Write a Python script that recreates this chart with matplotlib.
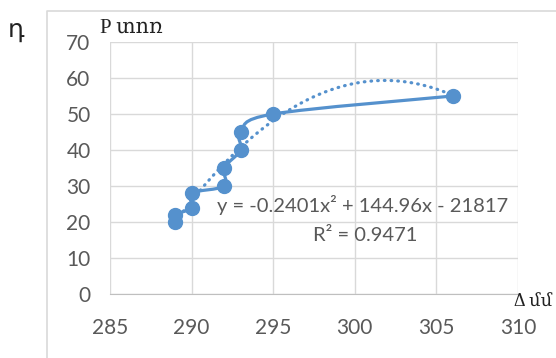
import numpy as np
import matplotlib.pyplot as plt
from matplotlib.path import Path
from matplotlib.patches import PathPatch
from matplotlib.lines import Line2D

# data
temp = [289, 289, 290, 290, 292, 292, 293, 293, 295, 306]
pressure = [20, 22, 24, 28, 30, 35, 40, 45, 50, 55]
x_ticks = [285, 290, 295, 300, 305, 310]
y_ticks = [0, 10, 20, 30, 40, 50, 60, 70]
equation = "y = -0.2401x² + 144.96x - 21817"
r_squared = "R² = 0.9471"

blue = '#5591CD'
gray = '#595959'
grid = '#d9d9d9'

plt.rcParams['font.family'] = ['Lato', 'DejaVu Sans']

fig = plt.figure(figsize=(5.56, 3.58), dpi=100)
ax = fig.add_axes([110 / 556, 1 - 294 / 358, 408 / 556, 252 / 358])

# smoothed line (Catmull-Rom style bezier, like Excel's "smoothed line")
pts = np.column_stack([temp, pressure]).astype(float)
padded = np.vstack([pts[0], pts, pts[-1]])
verts = [tuple(pts[0])]
codes = [Path.MOVETO]
for i in range(1, len(padded) - 2):
    p0, p1, p2, p3 = padded[i - 1], padded[i], padded[i + 1], padded[i + 2]
    c1 = p1 + (p2 - p0) / 6
    c2 = p2 - (p3 - p1) / 6
    verts += [tuple(c1), tuple(c2), tuple(p2)]
    codes += [Path.CURVE4] * 3
ax.add_patch(PathPatch(Path(verts, codes), facecolor='none', edgecolor=blue,
                       lw=2.3, zorder=3, capstyle='round', joinstyle='round'))
ax.plot(temp, pressure, 'o', color=blue, ms=10, zorder=4)

# polynomial trendline (order 2)
coef = np.polyfit(temp, pressure, 2)
tx = np.linspace(min(temp), max(temp), 200)
ax.plot(tx, np.polyval(coef, tx), color=blue, lw=2.3,
        linestyle=(0, (0.2, 1.9)), dash_capstyle='round', zorder=2)

ax.set_xlim(285, 310)
ax.set_ylim(0, 70)
ax.set_xticks(x_ticks)
ax.set_yticks(y_ticks)
ax.grid(True, color=grid, lw=1)
ax.set_axisbelow(True)
for s in ['top', 'right', 'left']:
    ax.spines[s].set_visible(False)
ax.spines['bottom'].set_color('#bfbfbf')
ax.tick_params(length=0, labelsize=15, colors=gray)
ax.tick_params(axis='x', pad=17)
ax.tick_params(axis='y', pad=14)

ax.text(0.262, 0.353, equation, transform=ax.transAxes, fontsize=14.5,
        color=gray, va='center', ha='left', zorder=5)
ax.text(0.625, 0.234, r_squared, transform=ax.transAxes, fontsize=14.5,
        color=gray, va='center', ha='center', zorder=5)

# axis captions and panel letter
fig.text(100 / 556, 1 - 28 / 358, "P տոռ", fontsize=15, va='center',
         family=['Liberation Serif', 'DejaVu Serif'], color='#222222')
fig.text(552 / 556, 1 - 302 / 358, "Δ մմ", fontsize=13, va='center', ha='right',
         family=['Liberation Serif', 'DejaVu Serif'], color='#222222')
fig.text(8 / 556, 1 - 30 / 358, "դ", fontsize=18, va='center',
         family=['DejaVu Sans'], color='#222222')

# chart border (only left and top are visible in the crop)
fig.add_artist(Line2D([47 / 556, 47 / 556, 1], [0, 1 - 11 / 358, 1 - 11 / 358],
                      transform=fig.transFigure, color=grid, lw=1.2))

fig.savefig('out.png', dpi=100)
